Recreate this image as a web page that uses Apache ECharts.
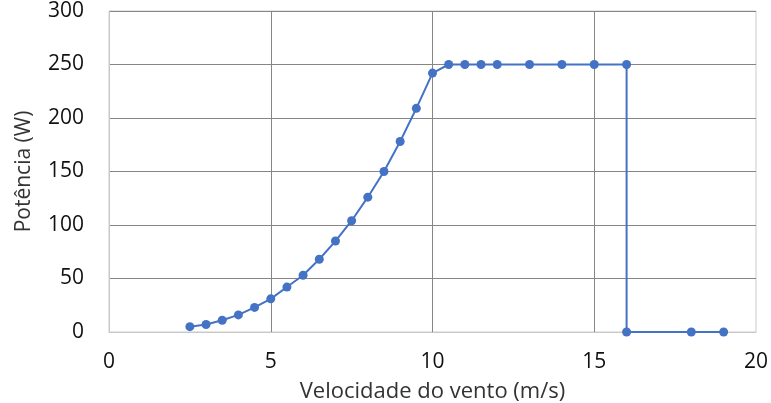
<!DOCTYPE html>
<html><head><meta charset="utf-8">
<script src="https://cdn.jsdelivr.net/npm/echarts@6/dist/echarts.min.js"></script>
<style>html,body{margin:0;padding:0;background:#fff}#c{width:771px;height:403px}</style>
</head><body><div id="c"></div>
<script>
const windSpeed = [2.5,3,3.5,4,4.5,5,5.5,6,6.5,7,7.5,8,8.5,9,9.5,10,10.5,11,11.5,12,13,14,15,16,16,18,19];
const power = [5,7,11,16,23,31,42,53,68,85,104,126,150,178,209,242,250,250,250,250,250,250,250,250,0,0,0];
const xTicks = [0,5,10,15,20];
const yTicks = [0,50,100,150,200,250,300];
const chart = echarts.init(document.getElementById('c'));
const font = '"Open Sans", "Noto Sans", sans-serif';
chart.setOption({
  animation:false,
  grid:{left:109,right:15,top:11,bottom:71,show:true,borderColor:'#cccccc',borderWidth:1,
    containLabel:false,outerBoundsMode:'none'},
  xAxis:{type:'value',min:xTicks[0],max:xTicks[xTicks.length-1],interval:5,
    name:'Velocidade do vento (m/s)',nameLocation:'middle',nameGap:49,
    nameTextStyle:{fontFamily:font,fontSize:22,color:'#333333'},
    axisLine:{show:true,lineStyle:{color:'#c8c8c8',width:1}},axisTick:{show:false},
    axisLabel:{fontFamily:font,fontSize:21,color:'#111111',margin:20},
    splitLine:{show:true,showMaxLine:false,lineStyle:{color:'#868686',width:1}}},
  yAxis:{type:'value',min:yTicks[0],max:yTicks[yTicks.length-1],interval:50,
    name:'Potência (W)',nameLocation:'middle',nameGap:74,nameRotate:90,
    nameTextStyle:{fontFamily:font,fontSize:21,color:'#333333'},
    axisLine:{show:true,lineStyle:{color:'#c8c8c8',width:1}},axisTick:{show:false},
    axisLabel:{fontFamily:font,fontSize:21,color:'#111111',margin:25},
    splitLine:{show:true,lineStyle:{color:'#868686',width:1}}},
  series:[{type:'line',data:windSpeed.map((x,i)=>[x,power[i]]),
    symbol:'circle',symbolSize:9,
    lineStyle:{color:'#4472C4',width:2},itemStyle:{color:'#4472C4'}}]
});
</script></body></html>
